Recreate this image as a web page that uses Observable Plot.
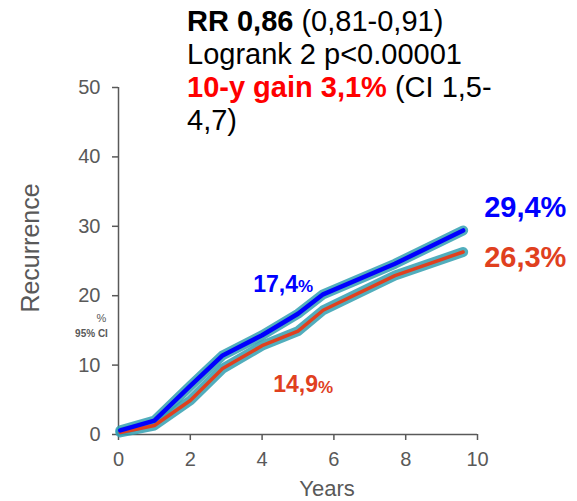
<!DOCTYPE html>
<html>
<head>
<meta charset="utf-8">
<script src="https://cdn.jsdelivr.net/npm/d3@7"></script>
<script src="https://cdn.jsdelivr.net/npm/@observablehq/plot@0.6"></script>
<style>
  html, body { margin: 0; padding: 0; background: #fff; }
  #chart { position: relative; width: 577px; height: 501px; font-family: "Liberation Sans", Arial, sans-serif; }
  #chart svg { position: absolute; left: 0; top: 0; }
  #stats { position: absolute; left: 187px; top: 5px; font-size: 29px; line-height: 33px; color: #000; white-space: nowrap; z-index: 2; }
  #stats b { font-weight: bold; }
  #stats .gain { color: #ff0000; font-weight: bold; }
</style>
</head>
<body>
<div id="chart">
  <div id="stats">
    <b>RR 0,86</b> (0,81-0,91)<br>
    Logrank 2 p&lt;0.00001<br>
    <span class="gain">10-y gain 3,1%</span> (CI 1,5-<br>
    4,7)
  </div>
</div>
<script>
// Cumulative recurrence (%) by years of follow-up, two arms
const years = [0.05, 1, 2, 2.9, 4, 5, 5.7, 7.7, 9.6];
const controlRisk = [0.6, 2.0, 7.0, 11.4, 14.3, 17.4, 20.2, 24.6, 29.4];
const treatedRisk = [0.3, 1.3, 4.9, 9.5, 12.8, 14.9, 17.9, 22.9, 26.3];

const xTicks = [0, 2, 4, 6, 8, 10];
const yTicks = [0, 10, 20, 30, 40, 50];

const blue = "#0000ff";
const red = "#e0401e";
const halo = "#33a0b2";
const axisGrey = "#595959";

const control = years.map((t, i) => ({t, v: controlRisk[i]}));
const treated = years.map((t, i) => ({t, v: treatedRisk[i]}));

const pct = v => v.toFixed(1).replace(".", ",");
const at = (rows, t) => rows.find(d => d.t === t);
const fiveCtrl = at(control, 5);
const fiveTrt = at(treated, 5);
const endCtrl = control[control.length - 1];
const endTrt = treated[treated.length - 1];

const font = "Liberation Sans, Arial, sans-serif";

const chart = Plot.plot({
  width: 577,
  height: 501,
  marginLeft: 118,
  marginRight: 100,
  marginTop: 87,
  marginBottom: 67,
  style: {fontFamily: font, background: "transparent", overflow: "visible"},
  x: {domain: [0, 10], ticks: xTicks},
  y: {domain: [0, 50], ticks: yTicks},
  marks: [
    Plot.axisX({ticks: xTicks, tickSize: 6, tickPadding: 11, fontSize: 20, stroke: axisGrey, fill: axisGrey, strokeWidth: 1.5, label: null}),
    Plot.axisY({ticks: yTicks, tickSize: 6, tickPadding: 12, fontSize: 20, stroke: axisGrey, fill: axisGrey, strokeWidth: 1.5, label: null}),
    Plot.ruleY([0], {stroke: axisGrey, strokeWidth: 1.5}),
    Plot.ruleX([0], {stroke: axisGrey, strokeWidth: 1.5}),
    // halo under each curve
    Plot.line(treated, {x: "t", y: "v", stroke: halo, strokeWidth: 10, strokeOpacity: 0.85}),
    Plot.line(control, {x: "t", y: "v", stroke: halo, strokeWidth: 10, strokeOpacity: 0.85}),
    Plot.line(treated, {x: "t", y: "v", stroke: red, strokeWidth: 3.5}),
    Plot.line(control, {x: "t", y: "v", stroke: blue, strokeWidth: 4.5}),
    // 5-year values: number then a smaller percent sign
    Plot.text([fiveCtrl], {x: "t", y: "v", text: d => pct(d.v), textAnchor: "end", dx: 0, dy: -29, fontSize: 23, fontWeight: "bold", fill: blue}),
    Plot.text([fiveCtrl], {x: "t", y: "v", text: () => "%", textAnchor: "start", dx: 0, dy: -27, fontSize: 17, fontWeight: "bold", fill: blue}),
    Plot.text([fiveTrt], {x: "t", y: "v", text: d => pct(d.v), textAnchor: "end", dx: 20, dy: 54, fontSize: 23, fontWeight: "bold", fill: red}),
    Plot.text([fiveTrt], {x: "t", y: "v", text: () => "%", textAnchor: "start", dx: 20, dy: 56, fontSize: 17, fontWeight: "bold", fill: red}),
    // 10-year values at the end of each curve
    Plot.text([endCtrl], {x: "t", y: "v", text: d => pct(d.v) + "%", textAnchor: "start", dx: 21, dy: -23, fontSize: 29, fontWeight: "bold", fill: blue}),
    Plot.text([endTrt], {x: "t", y: "v", text: d => pct(d.v) + "%", textAnchor: "start", dx: 21, dy: 6, fontSize: 29, fontWeight: "bold", fill: red}),
    // axis titles
    Plot.text(["Recurrence"], {frameAnchor: "left", textAnchor: "middle", lineAnchor: "middle", rotate: -90, dx: -88, dy: -13, fontSize: 25, fill: axisGrey}),
    Plot.text(["%"], {frameAnchor: "left", textAnchor: "middle", lineAnchor: "middle", dx: -17, dy: 57, fontSize: 11, fill: axisGrey}),
    Plot.text(["95% CI"], {frameAnchor: "left", textAnchor: "middle", lineAnchor: "middle", dx: -27, dy: 73, fontSize: 10, fontWeight: "bold", fill: axisGrey}),
    Plot.text(["Years"], {frameAnchor: "bottom", textAnchor: "middle", lineAnchor: "middle", dx: 29, dy: 54, fontSize: 22, fill: axisGrey})
  ]
});

document.getElementById("chart").appendChild(chart);
</script>
</body>
</html>
